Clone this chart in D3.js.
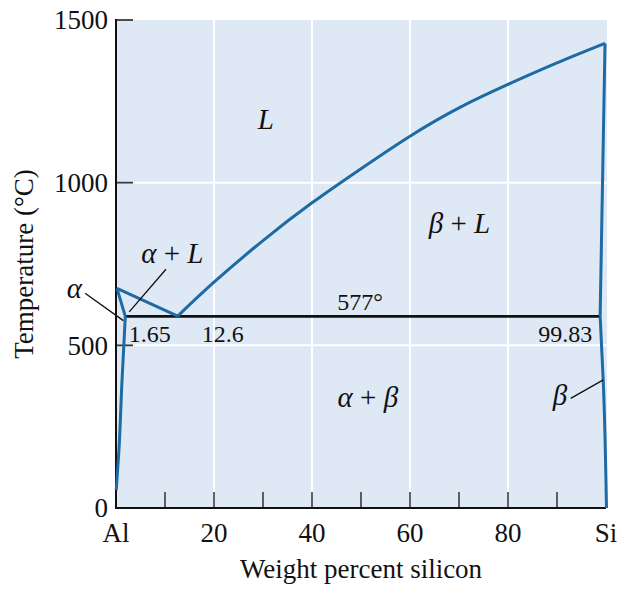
<!DOCTYPE html>
<html>
<head>
<meta charset="utf-8">
<script src="https://cdn.jsdelivr.net/npm/d3@7/dist/d3.min.js"></script>
<style>
  html, body { margin: 0; padding: 0; background: #ffffff; }
  svg { display: block; }
  text { font-family: "Liberation Serif", "Times New Roman", serif; fill: #111; }
</style>
</head>
<body>
<svg id="chart" width="624" height="592"></svg>
<script>
// ---------- data (wt% Si, temperature °C) ----------
const xTickValues = [10, 20, 30, 40, 50, 60, 70, 80, 90];
const xLabelValues = [0, 20, 40, 60, 80, 100];
const xLabelTexts = ["Al", "20", "40", "60", "80", "Si"];
const yTickValues = [0, 500, 1000, 1500];
const xGridValues = [20, 40, 60, 80];
const yGridValues = [500, 1000];

const liquidusAl = [[0.2, 675], [12.6, 590]];
const solidusAl = [[0.2, 675], [1.9, 589]];
const solvusAl = [[1.9, 589], [1.2, 383], [0.6, 178], [0.05, 55]];
const liquidusSi = [[12.6, 590], [20, 694], [30, 822], [40, 938], [50, 1043],
                    [60, 1143], [70, 1230], [80, 1302], [90, 1368], [99.8, 1428]];
const solidusSi = [[99.8, 1428], [98.8, 589]];
const solvusSi = [[98.8, 589], [99.45, 387], [100.1, 0]];
const eutectic = [[1.9, 589], [98.8, 589]];

const compositionLabels = ["1.65", "12.6", "99.83"];
const compositionLabelX = [6.9, 21.8, 91.7];
const eutecticLabel = "577°";

// ---------- layout ----------
const svg = d3.select("#chart");
const mLeft = 116, mRight = 606, mTop = 20, mBottom = 508;
const x = d3.scaleLinear().domain([0, 100]).range([mLeft, mRight]);
const y = d3.scaleLinear().domain([0, 1500]).range([mBottom, mTop]);

const blue = "#1d6aa5";
const bg = "#dfe9f5";

// background
svg.append("rect")
  .attr("x", x(0)).attr("y", y(1500))
  .attr("width", x(100) - x(0) + 1).attr("height", y(0) - y(1500))
  .attr("fill", bg);

// gridlines
svg.append("g").selectAll("line").data(xGridValues).join("line")
  .attr("x1", d => x(d)).attr("x2", d => x(d))
  .attr("y1", y(1500)).attr("y2", y(0))
  .attr("stroke", "#ffffff").attr("stroke-width", 2);
svg.append("g").selectAll("line").data(yGridValues).join("line")
  .attr("x1", x(0)).attr("x2", x(100) + 1)
  .attr("y1", d => y(d)).attr("y2", d => y(d))
  .attr("stroke", "#ffffff").attr("stroke-width", 2);

// ticks (inward)
svg.append("g").selectAll("line").data(xTickValues).join("line")
  .attr("x1", d => x(d)).attr("x2", d => x(d))
  .attr("y1", y(0)).attr("y2", y(0) - 16)
  .attr("stroke", "#3a3a3a").attr("stroke-width", 1.6);
svg.append("g").selectAll("line").data(yTickValues).join("line")
  .attr("x1", x(0)).attr("x2", x(0) + 17)
  .attr("y1", d => y(d)).attr("y2", d => y(d))
  .attr("stroke", "#3a3a3a").attr("stroke-width", 1.8);

// axis lines
svg.append("line").attr("x1", x(0)).attr("x2", x(0))
  .attr("y1", y(1500) - 1).attr("y2", y(0) + 1)
  .attr("stroke", "#111").attr("stroke-width", 2);
svg.append("line").attr("x1", x(0) - 1).attr("x2", x(100))
  .attr("y1", y(0)).attr("y2", y(0))
  .attr("stroke", "#111").attr("stroke-width", 2);

// tick labels
svg.append("g").selectAll("text").data(yTickValues).join("text")
  .attr("x", x(0) - 8).attr("y", d => y(d)).attr("dy", "0.34em")
  .attr("text-anchor", "end").attr("font-size", 27)
  .text(d => d);
svg.append("g").selectAll("text").data(xLabelValues).join("text")
  .attr("x", d => x(d)).attr("y", 542)
  .attr("text-anchor", "middle").attr("font-size", 27)
  .text((d, i) => xLabelTexts[i]);

// axis titles
svg.append("text")
  .attr("x", (mLeft + mRight) / 2).attr("y", 578)
  .attr("text-anchor", "middle").attr("font-size", 27)
  .text("Weight percent silicon");
svg.append("text")
  .attr("transform", `translate(33,${(mTop + mBottom) / 2}) rotate(-90)`)
  .attr("text-anchor", "middle").attr("font-size", 27)
  .text("Temperature (°C)");

// phase boundaries
const line = d3.line().x(d => x(d[0])).y(d => y(d[1]));
const curve = d3.line().x(d => x(d[0])).y(d => y(d[1])).curve(d3.curveNatural);

svg.append("path").datum(eutectic).attr("d", line)
  .attr("fill", "none").attr("stroke", "#111").attr("stroke-width", 2.8);

[liquidusAl, solidusAl, solidusSi].forEach(seg => {
  svg.append("path").datum(seg).attr("d", line)
    .attr("fill", "none").attr("stroke", blue).attr("stroke-width", 3)
    .attr("stroke-linejoin", "round");
});
svg.append("path").datum(liquidusSi).attr("d", curve)
  .attr("fill", "none").attr("stroke", blue).attr("stroke-width", 3);
const curveY = d3.line().x(d => x(d[0])).y(d => y(d[1])).curve(d3.curveMonotoneY);
[solvusAl, solvusSi].forEach(seg => {
  svg.append("path").datum(seg).attr("d", curveY)
    .attr("fill", "none").attr("stroke", blue).attr("stroke-width", 3);
});

// leader lines
const leaders = [
  [[-6.3, 660], [1.5, 576]],
  [[10.2, 734], [2.7, 603]],
  [[92.8, 337], [99.45, 394]]
];
svg.append("g").selectAll("path").data(leaders).join("path")
  .attr("d", line).attr("fill", "none").attr("stroke", "#111").attr("stroke-width", 1.3);

// region labels
function regionLabel(parts, wt, temp) {
  const t = svg.append("text")
    .attr("x", x(wt)).attr("y", y(temp))
    .attr("text-anchor", "middle").attr("font-size", 29);
  parts.forEach(p => {
    t.append("tspan").attr("font-style", p[1] ? "italic" : "normal").text(p[0]);
  });
}
regionLabel([["L", true]], 30.6, 1164);
regionLabel([["β", true], [" + ", false], ["L", true]], 70.1, 844);
regionLabel([["α", true], [" + ", false], ["L", true]], 11.5, 752);
regionLabel([["α", true]], -8.5, 646);
regionLabel([["α", true], [" + ", false], ["β", true]], 51.4, 311);
regionLabel([["β", true]], 90.6, 317);

// numeric labels
svg.append("g").selectAll("text").data(compositionLabels).join("text")
  .attr("x", (d, i) => x(compositionLabelX[i])).attr("y", y(511))
  .attr("text-anchor", "middle").attr("font-size", 24)
  .text(d => d);
svg.append("text").attr("x", x(49.8)).attr("y", y(609))
  .attr("text-anchor", "middle").attr("font-size", 24)
  .text(eutecticLabel);
</script>
</body>
</html>
